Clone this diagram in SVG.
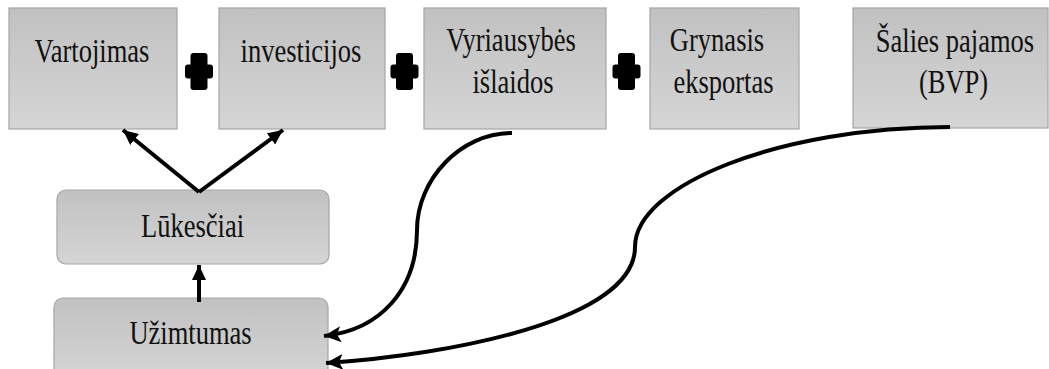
<svg xmlns="http://www.w3.org/2000/svg" width="1049" height="369" viewBox="0 0 1049 369">
<defs>
<linearGradient id="g" x1="0" y1="0" x2="0" y2="1">
<stop offset="0" stop-color="#c1c1c1"/>
<stop offset="1" stop-color="#d5d5d5"/>
</linearGradient>
<marker id="ah" markerUnits="userSpaceOnUse" markerWidth="18" markerHeight="16" viewBox="0 0 18 16" refX="17" refY="8" orient="auto">
<path d="M0,0 L17,8 L0,16 L4,8 Z" fill="#000"/>
</marker>
<marker id="ah2" markerUnits="userSpaceOnUse" markerWidth="16" markerHeight="14" viewBox="0 0 16 14" refX="15" refY="7" orient="auto">
<path d="M0,0 L15,7 L0,14 Z" fill="#000"/>
</marker>
</defs>
<style>
.box{fill:url(#g);stroke:#a5a5a5;stroke-width:1.2}
.t{font-family:"Liberation Serif","Times New Roman",serif;font-size:34px;fill:#111;text-anchor:middle}
.c{fill:none;stroke:#000;stroke-width:4;stroke-linecap:butt}
.plus{fill:#000}
</style>
<g id="n-vartojimas">
<rect class="box" x="9" y="8" width="168" height="121"/>
<text class="t" transform="matrix(0.78 0 0 1 92 62)">Vartojimas</text>
</g>
<g id="n-investicijos">
<rect class="box" x="219" y="8" width="166" height="121"/>
<text class="t" transform="matrix(0.78 0 0 1 301 62)">investicijos</text>
</g>
<g id="n-vyriausybes">
<rect class="box" x="424" y="8" width="182" height="121"/>
<text class="t" transform="matrix(0.78 0 0 1 511 51)">Vyriausybės</text>
<text class="t" transform="matrix(0.78 0 0 1 513 93)">išlaidos</text>
</g>
<g id="n-grynasis">
<rect class="box" x="650" y="8" width="149" height="121"/>
<text class="t" transform="matrix(0.78 0 0 1 717 51)">Grynasis</text>
<text class="t" transform="matrix(0.78 0 0 1 723.5 93)">eksportas</text>
</g>
<g id="n-salies">
<rect class="box" x="853" y="8" width="195" height="120"/>
<text class="t" transform="matrix(0.78 0 0 1 955 52)">Šalies pajamos</text>
<text class="t" transform="matrix(0.78 0 0 1 953.5 93)">(BVP)</text>
</g>
<g id="n-lukesciai">
<rect class="box" x="57" y="190" width="272" height="74" rx="9"/>
<text class="t" transform="matrix(0.78 0 0 1 192.5 237)">Lūkesčiai</text>
</g>
<g id="n-uzimtumas">
<rect class="box" x="54" y="298" width="274" height="80" rx="9"/>
<text class="t" transform="matrix(0.78 0 0 1 190.5 344)">Užimtumas</text>
</g>
<g id="plus-signs">
<g transform="translate(199,71.5)"><rect class="plus" x="-14" y="-7" width="28" height="14" rx="3"/><rect class="plus" x="-8.5" y="-18.5" width="17" height="37" rx="3"/></g>
<g transform="translate(404.5,71.5)"><rect class="plus" x="-14" y="-7" width="28" height="14" rx="3"/><rect class="plus" x="-8.5" y="-18.5" width="17" height="37" rx="3"/></g>
<g transform="translate(626.5,71.5)"><rect class="plus" x="-14" y="-7" width="28" height="14" rx="3"/><rect class="plus" x="-8.5" y="-18.5" width="17" height="37" rx="3"/></g>
</g>
<g id="connectors">
<path class="c" d="M199,192 L123,130" marker-end="url(#ah2)"/>
<path class="c" d="M199,192 L283,130" marker-end="url(#ah2)"/>
<path class="c" d="M199,302 L199,265" stroke-width="3.5" marker-end="url(#ah2)"/>
<path class="c" d="M512,133 C460,133 417,180 417,230 C417,290 380,330 324,336" marker-end="url(#ah)"/>
<path class="c" d="M950,127 C780,127 635,185 635,247 C635,320 450,355 326,363" marker-end="url(#ah)"/>
</g>
</svg>
